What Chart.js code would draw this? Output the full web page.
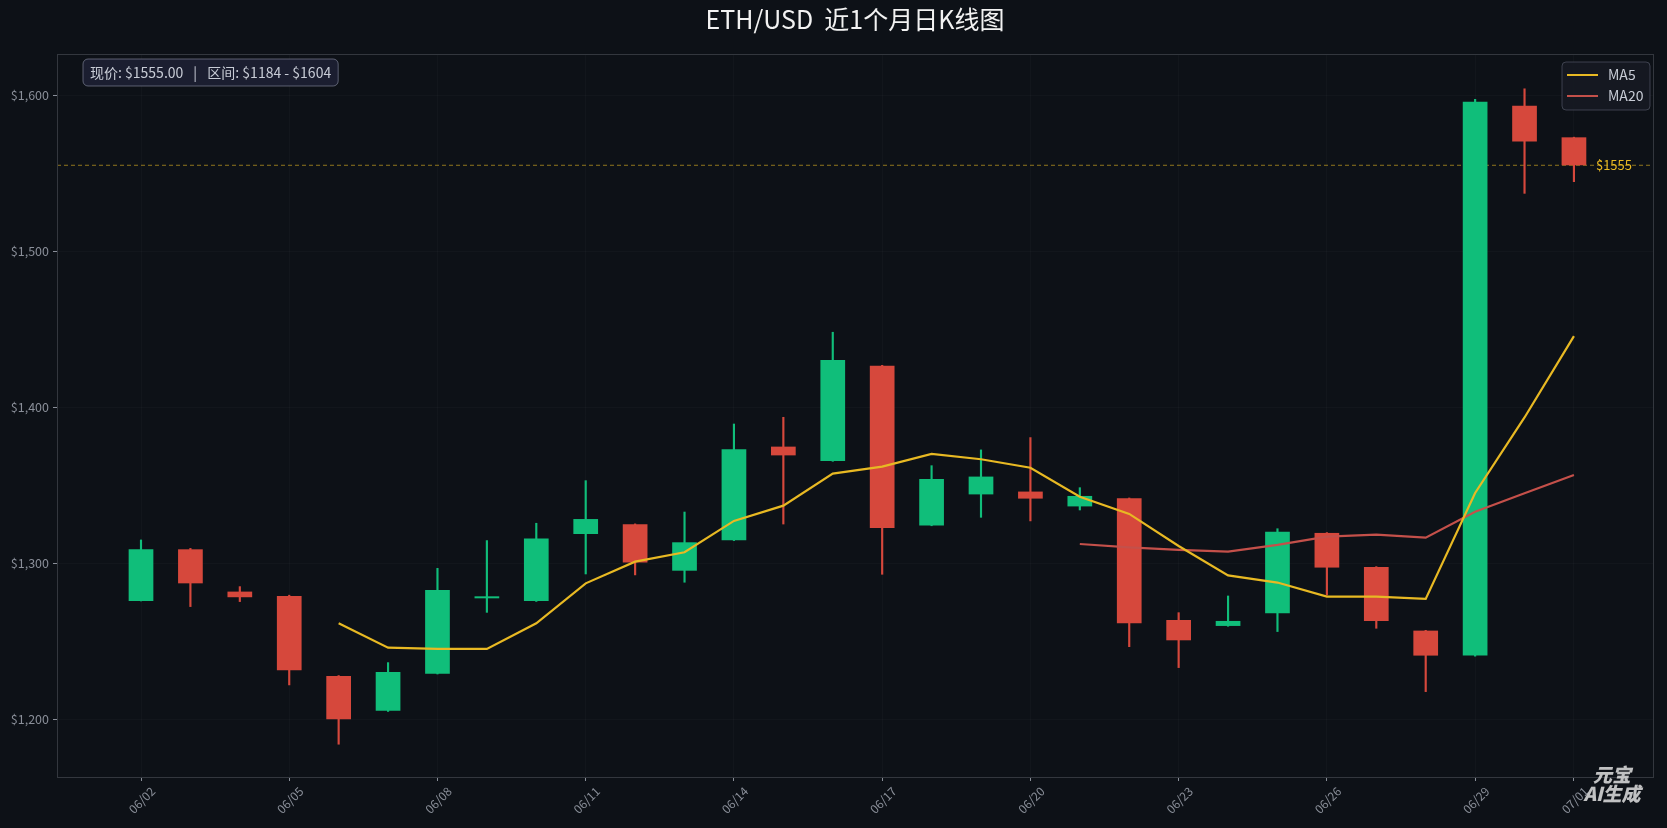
<!DOCTYPE html>
<html>
<head>
<meta charset="utf-8">
<script src="https://cdn.jsdelivr.net/npm/chart.js@4.4.1/dist/chart.umd.min.js"></script>
<style>
  html, body { margin: 0; padding: 0; background: #0d1117; }
  #wrap { width: 1667px; height: 828px; position: relative; }
</style>
</head>
<body>
<div id="wrap"><canvas id="klineChart"></canvas></div>
<script>
// 日期 (06/02 - 07/01)
const dates = ['06/02','06/03','06/04','06/05','06/06','06/07','06/08','06/09','06/10','06/11',
               '06/12','06/13','06/14','06/15','06/16','06/17','06/18','06/19','06/20','06/21',
               '06/22','06/23','06/24','06/25','06/26','06/27','06/28','06/29','06/30','07/01'];
const tickIdx = [0, 3, 6, 9, 12, 15, 18, 21, 24, 27, 29];
const yTicks = [1200, 1300, 1400, 1500, 1600];

const opens  = [1275.8,1308.9,1281.8,1279.0,1227.8,1205.5,1229.2,1277.5,1275.8,1318.7,
                1324.9,1295.2,1314.7,1374.7,1365.5,1426.6,1324.1,1344.1,1345.9,1336.4,
                1341.6,1263.6,1259.8,1267.9,1319.4,1297.6,1256.8,1240.8,1593.2,1572.9];
const highs  = [1314.9,1309.5,1285.0,1279.5,1228.0,1236.3,1296.7,1314.5,1325.6,1352.9,
                1325.2,1332.8,1389.2,1393.5,1448.0,1426.8,1362.5,1372.6,1380.5,1348.4,
                1341.8,1268.3,1279.0,1322.1,1319.6,1297.8,1257.0,1597.2,1604.0,1573.0];
const lows   = [1275.8,1272.2,1275.4,1222.0,1184.0,1205.0,1229.0,1268.5,1275.5,1293.1,
                1292.5,1287.8,1314.5,1325.1,1365.3,1292.9,1324.0,1329.4,1327.1,1334.1,
                1246.5,1233.1,1259.6,1256.2,1279.6,1258.3,1217.7,1240.5,1537.0,1544.5];
const closes = [1308.9,1287.1,1278.2,1231.4,1200.0,1230.3,1282.9,1278.3,1315.9,1328.3,
                1300.4,1313.4,1373.0,1369.1,1430.2,1322.6,1354.0,1355.5,1341.4,1343.1,
                1261.5,1250.6,1263.0,1320.2,1297.2,1263.0,1240.8,1595.7,1570.3,1555.0];
const ma5    = [null,null,null,null,1261.5,1245.9,1245.1,1245.1,1261.5,1287.1,
                1301.0,1307.0,1327.1,1336.9,1357.4,1361.9,1370.0,1366.6,1361.2,1342.6,
                1331.6,1311.0,1292.2,1287.6,1278.6,1278.6,1277.1,1345.0,1393.4,1445.5];
const ma20   = [null,null,null,null,null,null,null,null,null,null,
                null,null,null,null,null,null,null,null,null,1312.3,
                1310.2,1308.5,1307.4,1311.7,1317.0,1318.3,1316.4,1333.0,1344.8,1356.5];

const lastPrice = 1555.00;
const rangeLow = 1184;
const rangeHigh = 1604;

const UP = 'rgb(16,190,122)';
const DOWN = 'rgb(214,72,60)';
const MA5_COLOR = '#e8b923';
const MA20_COLOR = '#c4504a';
const FONT = '"Noto Sans CJK SC", "Noto Sans", sans-serif';

const candleColors = opens.map((o, i) => closes[i] >= o ? UP : DOWN);

const overlayPlugin = {
    id: 'overlay',
    beforeDraw(chart) {
        const ctx = chart.ctx;
        ctx.save();
        ctx.fillStyle = '#0d1117';
        ctx.fillRect(0, 0, chart.width, chart.height);
        ctx.restore();
    },
    beforeDatasetsDraw(chart) {
        // 现价虚线
        const { ctx, chartArea: a, scales } = chart;
        const y = scales.y.getPixelForValue(lastPrice);
        ctx.save();
        ctx.strokeStyle = 'rgba(232,185,35,0.6)';
        ctx.lineWidth = 1;
        ctx.setLineDash([4, 3]);
        ctx.beginPath();
        ctx.moveTo(a.left, y);
        ctx.lineTo(a.right, y);
        ctx.stroke();
        ctx.restore();
    },
    afterDraw(chart) {
        const { ctx, chartArea: a, scales } = chart;
        ctx.save();

        // 边框
        ctx.strokeStyle = '#33373e';
        ctx.lineWidth = 1;
        ctx.strokeRect(a.left + 0.5, a.top + 0.5, a.right - a.left, a.bottom - a.top);

        // 现价标签
        const y = scales.y.getPixelForValue(lastPrice);
        const x = scales.x.getPixelForValue(dates.length - 1) + 22;
        ctx.font = '13px ' + FONT;
        ctx.fillStyle = '#e8b923';
        ctx.textAlign = 'left';
        ctx.textBaseline = 'middle';
        ctx.fillText('$' + Math.round(lastPrice), x, y);

        // 信息框
        const part1 = '现价: $' + lastPrice.toFixed(2);
        const part2 = '区间: $' + rangeLow + ' - $' + rangeHigh;
        ctx.font = '14px ' + FONT;
        const w1 = ctx.measureText(part1).width;
        const w2 = ctx.measureText(part2).width;
        const bx = a.left + 26, by = a.top + 5, bh = 27;
        const bw = 7 + w1 + 24 + w2 + 7;
        ctx.beginPath();
        ctx.roundRect(bx, by, bw, bh, 5);
        ctx.fillStyle = '#1b1e30';
        ctx.fill();
        ctx.strokeStyle = 'rgba(140,145,165,0.6)';
        ctx.stroke();
        ctx.fillStyle = '#c8ccd6';
        ctx.textAlign = 'left';
        ctx.textBaseline = 'middle';
        ctx.fillText(part1, bx + 7, by + bh / 2);
        ctx.fillText('|', bx + 7 + w1 + 10, by + bh / 2);
        ctx.fillText(part2, bx + 7 + w1 + 24, by + bh / 2);

        // 图例
        const lx = a.right - 91, ly = a.top + 8, lw = 88, lh = 48;
        ctx.beginPath();
        ctx.roundRect(lx, ly, lw, lh, 4);
        ctx.fillStyle = 'rgba(22,25,34,0.9)';
        ctx.fill();
        ctx.strokeStyle = 'rgba(90,95,110,0.6)';
        ctx.stroke();
        [['MA5', MA5_COLOR, 13], ['MA20', MA20_COLOR, 34]].forEach(([name, color, dy]) => {
            ctx.strokeStyle = color;
            ctx.lineWidth = 2;
            ctx.beginPath();
            ctx.moveTo(lx + 5, ly + dy);
            ctx.lineTo(lx + 36, ly + dy);
            ctx.stroke();
            ctx.fillStyle = '#c8ccd6';
            ctx.font = '14px ' + FONT;
            ctx.fillText(name, lx + 46, ly + dy);
        });

        // 水印
        ctx.font = 'italic 900 19px ' + FONT;
        ctx.fillStyle = 'rgba(225,225,225,0.85)';
        ctx.textAlign = 'center';
        ctx.fillText('元宝', 1612, 775);
        ctx.fillText('AI生成', 1612, 794);

        ctx.restore();
    }
};

const ctx = document.getElementById('klineChart').getContext('2d');
new Chart(ctx, {
    type: 'bar',
    data: {
        datasets: [
            {
                type: 'line',
                label: 'MA5',
                data: ma5.map((v, i) => ({ x: i, y: v })),
                borderColor: MA5_COLOR,
                borderWidth: 2.2,
                pointRadius: 0,
                tension: 0,
                order: 1
            },
            {
                type: 'line',
                label: 'MA20',
                data: ma20.map((v, i) => ({ x: i, y: v })),
                borderColor: MA20_COLOR,
                borderWidth: 2.2,
                pointRadius: 0,
                tension: 0,
                order: 1
            },
            {
                label: 'body',
                data: opens.map((o, i) => ({ x: i, y: [o, closes[i]] })),
                backgroundColor: candleColors,
                borderWidth: 0,
                grouped: false,
                barPercentage: 0.5,
                categoryPercentage: 1.0,
                minBarLength: 2,
                order: 2
            },
            {
                label: 'wick',
                data: lows.map((l, i) => ({ x: i, y: [l, highs[i]] })),
                backgroundColor: candleColors,
                borderWidth: 0,
                grouped: false,
                barThickness: 1.5,
                order: 3
            }
        ]
    },
    options: {
        responsive: true,
        maintainAspectRatio: false,
        animation: false,
        layout: { padding: { left: 0, right: 14, top: 0, bottom: 0 } },
        plugins: {
            legend: { display: false },
            tooltip: { enabled: false },
            title: {
                display: true,
                fullSize: false,
                text: 'ETH/USD  近1个月日K线图',
                color: '#f2f2f2',
                font: { family: FONT, size: 25, weight: 'normal' },
                padding: { top: 4, bottom: 20 }
            }
        },
        scales: {
            x: {
                type: 'linear',
                min: -1.7,
                max: 30.6,
                offset: false,
                afterBuildTicks: (scale) => { scale.ticks = tickIdx.map(v => ({ value: v })); },
                afterFit: (scale) => { scale.height = 51; },
                grid: { offset: false, color: 'rgba(255,255,255,0.025)', tickColor: '#8a8f99', tickLength: 4 },
                border: { display: false },
                ticks: {
                    color: '#8a8f99',
                    font: { family: FONT, size: 12 },
                    minRotation: 45,
                    maxRotation: 45,
                    labelOffset: 12,
                    padding: 3,
                    callback: (v) => dates[v]
                }
            },
            y: {
                min: 1163,
                max: 1626.3,
                afterBuildTicks: (scale) => { scale.ticks = yTicks.map(v => ({ value: v })); },
                afterFit: (scale) => { scale.width = 57; },
                grid: { color: 'rgba(255,255,255,0.025)', tickColor: '#8a8f99', tickLength: 4 },
                border: { display: false },
                ticks: {
                    color: '#8a8f99',
                    font: { family: FONT, size: 12.5 },
                    padding: 4,
                    callback: (v) => '$' + v.toLocaleString('en-US')
                }
            }
        }
    },
    plugins: [overlayPlugin]
});
</script>
</body>
</html>
